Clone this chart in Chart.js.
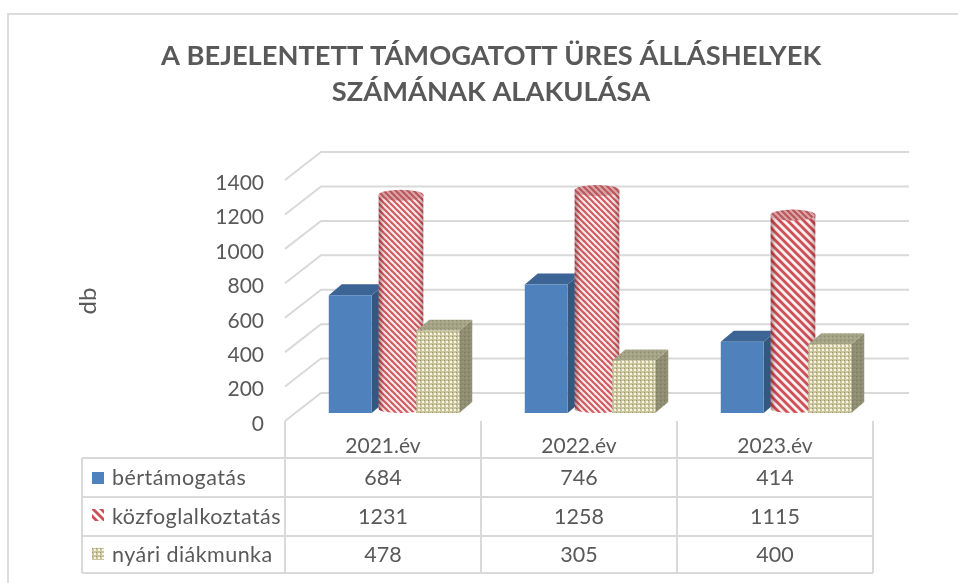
<!DOCTYPE html>
<html lang="hu">
<head>
<meta charset="utf-8">
<title>A bejelentett támogatott üres álláshelyek</title>
<style>
html,body{margin:0;padding:0;background:#fff;overflow:hidden}
#wrap{position:relative;width:958px;height:583px}
</style>
<script src="https://cdn.jsdelivr.net/npm/chart.js@4"></script>
</head>
<body>
<div id="wrap"><canvas id="c" width="958" height="583"></canvas></div>
<script>
const categories = ['2021.év', '2022.év', '2023.év'];
const seriesNames = ['bértámogatás', 'közfoglalkoztatás', 'nyári diákmunka'];
const berTamogatas = [684, 746, 414];
const kozfoglalkoztatas = [1231, 1258, 1115];
const nyariDiakmunka = [478, 305, 400];
const titleLines = ['A BEJELENTETT TÁMOGATOTT ÜRES ÁLLÁSHELYEK', 'SZÁMÁNAK ALAKULÁSA'];
const yAxisTitle = 'db';

const TEXT = '#595959', LINE = '#d9d9d9', FONT = 'Lato, "Open Sans", sans-serif';

function tile(w, h, paint) {
  const c = document.createElement('canvas');
  c.width = w; c.height = h;
  paint(c.getContext('2d'));
  return c.getContext('2d').createPattern(c, 'repeat');
}
function stripes(n, lw, bg, fg) {
  return tile(n, n, g => {
    g.fillStyle = bg; g.fillRect(0, 0, n, n);
    g.strokeStyle = fg; g.lineWidth = lw;
    [-n, 0, n].forEach(o => { g.beginPath(); g.moveTo(o - 1, -1); g.lineTo(o + n + 1, n + 1); g.stroke(); });
  });
}
function dots(bg, dark, light) {
  return tile(4, 4, g => {
    g.fillStyle = bg; g.fillRect(0, 0, 4, 4);
    g.fillStyle = dark; g.fillRect(0, 0, 1, 1);
    g.fillStyle = light; g.fillRect(2, 1, 2, 2);
  });
}
const redFine = stripes(6, 2.2, '#fbf1f1', '#d25a60');
const redCoarse = stripes(8, 2.8, '#fbf3f3', '#d04f56');
const redPatterns = [redFine, redFine, redCoarse];
const capPattern = stripes(6, 2.2, '#dba6a8', '#b9575c');
const tanPattern = dots('#c9c49e', '#9a9562', '#f6f4e6');
const tanSide = dots('#8e8c70', '#7a785e', '#989679');
const tanTop = dots('#a3a184', '#8c8a6e', '#aeac90');
const BLUE = '#4f81bd', BLUE_SIDE = '#33587f', BLUE_TOP = '#3c6494';

const DX = 13, DY = 11;         // bar depth
const CYL_SHIFT = 7;            // cylinders stand deeper in the scene
const FRONT_X = 285, BACK_X = 321, GRID_END = 909;
const FRONT_DY = 8, BACK_DY = -20;

function box(g, el, sideFill, topFill) {
  const l = el.x - el.width / 2, r = el.x + el.width / 2;
  g.fillStyle = sideFill;
  g.beginPath(); g.moveTo(r, el.y); g.lineTo(r + DX, el.y - DY); g.lineTo(r + DX, el.base - DY); g.lineTo(r, el.base); g.closePath(); g.fill();
  g.fillStyle = topFill;
  g.beginPath(); g.moveTo(l, el.y); g.lineTo(l + DX, el.y - DY); g.lineTo(r + DX, el.y - DY); g.lineTo(r, el.y); g.closePath(); g.fill();
}

const scene = {
  id: 'scene',
  beforeDatasetsDraw(chart) {
    const g = chart.ctx, y = chart.scales.y;
    g.save();
    g.strokeStyle = LINE; g.lineWidth = 2;
    y.ticks.forEach(t => {
      const p = y.getPixelForValue(t.value);
      g.beginPath();
      g.moveTo(FRONT_X, p + FRONT_DY);
      g.lineTo(BACK_X, p + BACK_DY);
      g.lineTo(GRID_END, p + BACK_DY);
      g.stroke();
    });
    g.restore();

    [0, 1, 2].forEach(i => {
      const meta = chart.getDatasetMeta(i);
      g.save();
      if (i === 0) meta.data.forEach(el => box(g, el, BLUE_SIDE, BLUE_TOP));
      if (i === 2) meta.data.forEach(el => box(g, el, tanSide, tanTop));
      if (i === 1) {
        g.translate(CYL_SHIFT, 0);
        g.save();
        g.beginPath();
        meta.data.forEach(el => {
          const l = el.x - el.width / 2, r = el.x + el.width / 2;
          g.moveTo(l, el.y - 6);
          g.lineTo(r, el.y - 6);
          g.lineTo(r, el.base - 4);
          g.ellipse(el.x, el.base - 4, el.width / 2, 4, 0, 0, Math.PI);
          g.closePath();
        });
        g.clip();
        meta.data.forEach((el, k) => {
          g.fillStyle = redPatterns[k];
          g.fillRect(el.x - el.width / 2, el.y - 6, el.width, 7);
        });
      }
      meta.controller.draw();
      if (i === 1) {
        meta.data.forEach(el => {
          const l = el.x - el.width / 2, r = el.x + el.width / 2;
          const sh = g.createLinearGradient(l, 0, r, 0);
          sh.addColorStop(0, 'rgba(90,20,25,.5)');
          sh.addColorStop(.12, 'rgba(90,20,25,.06)');
          sh.addColorStop(.45, 'rgba(255,255,255,0)');
          sh.addColorStop(.88, 'rgba(90,20,25,.05)');
          sh.addColorStop(1, 'rgba(90,20,25,.4)');
          g.fillStyle = sh;
          g.fillRect(l, el.y - 6, el.width, el.base - el.y + 6);
        });
        g.restore();
        meta.data.forEach(el => {
          g.fillStyle = capPattern;
          g.beginPath();
          g.ellipse(el.x, el.y - 6, el.width / 2, 5.5, 0, 0, Math.PI * 2);
          g.fill();
        });
      }
      g.restore();
    });
    return false;
  },
  afterDraw(chart) {
    const g = chart.ctx, x = chart.scales.x;
    const step = x.getPixelForValue(1) - x.getPixelForValue(0);
    const rows = [458, 497, 536, 573];
    const left = 82, first = FRONT_X;
    const series = [berTamogatas, kozfoglalkoztatas, nyariDiakmunka];
    const keys = [BLUE, stripes(8, 2.8, '#ffffff', '#cf4f55'), tanPattern];
    const keyY = [472, 509, 548];
    g.save();
    // outer frame
    g.strokeStyle = '#dcdcdc'; g.lineWidth = 2;
    g.beginPath(); g.moveTo(8, 583); g.lineTo(8, 14); g.lineTo(958, 14); g.stroke();
    // table
    g.strokeStyle = LINE; g.lineWidth = 2;
    const right = first + step * categories.length;
    g.beginPath();
    rows.forEach(r => { g.moveTo(left, r); g.lineTo(right, r); });
    g.moveTo(left, rows[0]); g.lineTo(left, rows[3]);
    for (let c = 0; c <= categories.length; c++) {
      g.moveTo(first + step * c, 421); g.lineTo(first + step * c, rows[3]);
    }
    g.stroke();
    g.font = '21.5px ' + FONT;
    g.textBaseline = 'middle';
    seriesNames.forEach((n, i) => {
      const cy = (rows[i] + rows[i + 1]) / 2 + 0.5;
      g.textAlign = 'left';
      g.fillStyle = keys[i];
      g.fillRect(92, keyY[i], 12, 12);
      g.fillStyle = TEXT;
      g.letterSpacing = '0.45px';
      g.fillText(n, 112, cy);
      g.letterSpacing = '0px';
      g.textAlign = 'center';
      series[i].forEach((v, c) => g.fillText(String(v), x.getPixelForValue(c) - 11, cy));
    });
    // value axis title
    g.translate(88, 301);
    g.rotate(-Math.PI / 2);
    g.font = '24px ' + FONT;
    g.textAlign = 'center';
    g.fillText(yAxisTitle, 0, 0);
    g.restore();
  }
};

new Chart(document.getElementById('c'), {
  type: 'bar',
  plugins: [scene],
  data: {
    labels: categories,
    datasets: [
      { label: seriesNames[0], data: berTamogatas, backgroundColor: BLUE },
      { label: seriesNames[1], data: kozfoglalkoztatas, backgroundColor: redPatterns, barPercentage: 1.03 },
      { label: seriesNames[2], data: nyariDiakmunka, backgroundColor: tanPattern }
    ]
  },
  options: {
    responsive: false,
    animation: false,
    layout: { padding: { left: 24, right: 0, top: 0, bottom: 0 } },
    datasets: { bar: { categoryPercentage: 0.67, barPercentage: 0.98 } },
    plugins: {
      legend: { display: false },
      tooltip: { enabled: false },
      title: {
        display: true,
        text: titleLines,
        color: TEXT,
        font: { family: FONT, size: 27.3, weight: 'bold', lineHeight: 1.32 },
        padding: { top: 38, bottom: 62 }
      }
    },
    scales: {
      x: {
        grid: { display: false, drawTicks: false },
        border: { display: false },
        ticks: { color: TEXT, font: { family: FONT, size: 21 }, padding: 21, labelOffset: -11, maxRotation: 0 },
        afterFit(s) { s.height = 170; }
      },
      y: {
        min: 0, max: 1400,
        grid: { display: false, drawTicks: false },
        border: { display: false },
        ticks: { stepSize: 200, color: TEXT, font: { family: FONT, size: 21 }, padding: 32, labelOffset: 11, callback: v => String(v) },
        afterFit(s) { s.width = 272; }
      },
      spacer: {
        type: 'linear', position: 'right', display: true,
        grid: { display: false, drawTicks: false },
        border: { display: false },
        ticks: { display: false },
        afterFit(s) { s.width = 74; }
      }
    }
  }
});
</script>
</body>
</html>
